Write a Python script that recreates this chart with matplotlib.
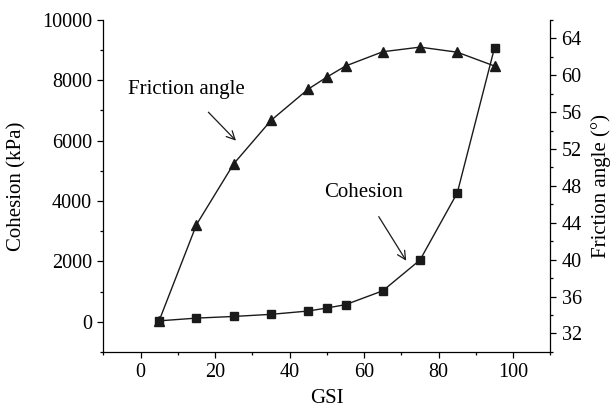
import numpy as np
import matplotlib.pyplot as plt
from matplotlib.ticker import MultipleLocator

plt.rcParams['font.family'] = ['Liberation Serif', 'DejaVu Serif']

# GSI values
gsi = [5, 15, 25, 35, 45, 50, 55, 65, 75, 85, 95]
# cohesion, kPa (left axis)
cohesion = [30, 120, 175, 245, 355, 455, 565, 1025, 2045, 4270, 9080]
# friction angle, degrees (right axis)
friction = [33.4, 43.8, 50.4, 55.1, 58.5, 59.8, 61.0, 62.55, 63.05, 62.5, 61.0]

fig = plt.figure(figsize=(6.15, 4.15), dpi=100)
ax1 = fig.add_axes([0.168, 0.152, 0.727, 0.8])
ax2 = ax1.twinx()

ax1.plot(gsi, cohesion, color="#1a1a1a", lw=1.0, marker="s", ms=5.5, zorder=3)
ax2.plot(gsi, friction, color="#1a1a1a", lw=1.0, marker="^", ms=6.5, zorder=3)

ax1.set_xlim(-10, 110)
ax1.set_ylim(-1000, 10000)
ax2.set_ylim(30, 66)

ax1.xaxis.set_major_locator(MultipleLocator(20))
ax1.xaxis.set_minor_locator(MultipleLocator(10))
ax1.yaxis.set_major_locator(MultipleLocator(2000))
ax1.yaxis.set_minor_locator(MultipleLocator(1000))
ax2.set_yticks(np.arange(32, 65, 4))
ax2.yaxis.set_minor_locator(MultipleLocator(2))

for ax in (ax1, ax2):
    ax.spines['top'].set_visible(False)
    ax.tick_params(which='major', direction='out', length=4.5, width=0.9, labelsize=14.5)
    ax.tick_params(which='minor', direction='out', length=2.5, width=0.9)
    for s in ax.spines.values():
        s.set_linewidth(0.9)
ax1.spines['right'].set_visible(False)
ax2.spines['left'].set_visible(False)
ax2.spines['bottom'].set_visible(False)

ax1.set_xlabel("GSI", fontsize=15, labelpad=5)
ax1.set_ylabel("Cohesion (kPa)", fontsize=15)
ax2.set_ylabel("Friction angle (°)", fontsize=15)
ax1.yaxis.set_label_coords(-0.171, 0.5)
ax2.yaxis.set_label_coords(1.092, 0.5)

ax1.annotate("Friction angle", xy=(25.6, 6000), xytext=(12.4, 7680),
             fontsize=15, ha="center", va="center",
             arrowprops=dict(arrowstyle="->", lw=0.9, color="#1a1a1a",
                             shrinkA=10, shrinkB=0))
ax1.annotate("Cohesion", xy=(71.3, 2020), xytext=(59.9, 4280),
             fontsize=15, ha="center", va="center",
             arrowprops=dict(arrowstyle="->", lw=0.9, color="#1a1a1a",
                             shrinkA=10, shrinkB=0))

fig.savefig("out.png")
